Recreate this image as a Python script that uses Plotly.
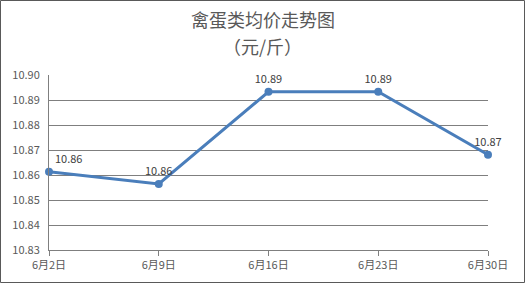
import plotly.graph_objects as go

categories = ["6月2日", "6月9日", "6月16日", "6月23日", "6月30日"]
values = [10.8613, 10.8564, 10.8933, 10.8933, 10.8681]
labels = ["10.86", "10.86", "10.89", "10.89", "10.87"]
label_pos = ["top right", "top center", "top center", "top center", "top center"]
yticks = [10.83, 10.84, 10.85, 10.86, 10.87, 10.88, 10.89, 10.90]
title_lines = ["禽蛋类均价走势图", "（元/斤）"]

W, H = 525, 283
ml, mr, mt, mb = 49, 37, 75, 33
pw, ph = W - ml - mr, H - mt - mb

fig = go.Figure()
fig.add_trace(go.Scatter(
    x=categories, y=values, mode="lines+markers+text",
    line=dict(color="#4A7EBB", width=3),
    marker=dict(color="#4A7EBB", size=8),
    text=labels, textposition=label_pos,
    textfont=dict(family="Noto Sans CJK SC, sans-serif", size=11, color="#404040"),
    cliponaxis=False, showlegend=False,
))

font = "Noto Sans CJK SC, sans-serif"
fig.update_layout(
    width=W, height=H,
    margin=dict(l=ml, r=mr, t=mt, b=mb),
    paper_bgcolor="white", plot_bgcolor="white",
    xaxis=dict(type="category", range=[0, 4], showgrid=False,
               showline=True, linecolor="#7f7f7f", linewidth=1,
               ticks="outside", ticklen=5, tickcolor="#7f7f7f",
               tickfont=dict(family=font, size=11, color="#595959")),
    yaxis=dict(range=[10.83, 10.90], tickvals=yticks,
               ticktext=[f"{v:.2f}" for v in yticks],
               showgrid=True, gridcolor="#7f7f7f", gridwidth=1,
               showline=True, linecolor="#7f7f7f", linewidth=1,
               zeroline=False, ticks="", ticklabelstandoff=6,
               tickfont=dict(family=font, size=11, color="#595959")),
)
for i, (txt, yc) in enumerate(zip(title_lines, [19, 46])):
    fig.add_annotation(text=txt, xref="paper", yref="paper",
                       x=(W / 2 - ml) / pw, y=(H - yc - mb) / ph,
                       xanchor="center", yanchor="middle", showarrow=False,
                       font=dict(family=font, size=18, color="#595959"))
fig.add_shape(type="rect", xref="paper", yref="paper",
              x0=(0.5 - ml) / pw, x1=(W - 0.5 - ml) / pw,
              y0=(-(mb - 0.5)) / ph, y1=(H - 0.5 - mb) / ph,
              line=dict(color="#595959", width=1), layer="below")
fig.write_html("out.html")
